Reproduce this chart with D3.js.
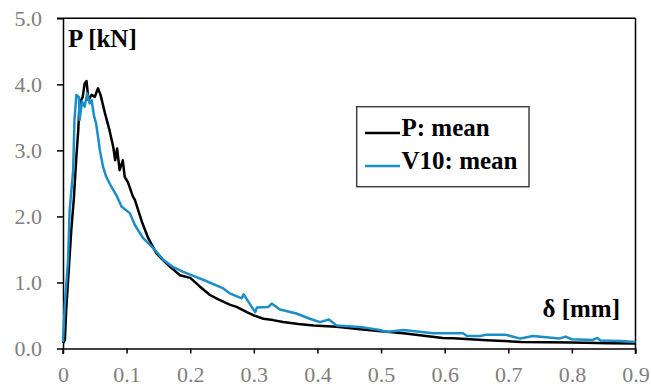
<!DOCTYPE html>
<html><head><meta charset="utf-8">
<script src="https://cdn.jsdelivr.net/npm/d3@7"></script>
<style>body{margin:0;background:#fff}svg{display:block}
text{font-family:"Liberation Serif","Times New Roman",Times,serif !important}</style>
</head><body><svg id="c" width="651" height="387"></svg>
<script>
const xTicks = [0, 0.1, 0.2, 0.3, 0.4, 0.5, 0.6, 0.7, 0.8, 0.9];
const xTickLabels = ["0", "0.1", "0.2", "0.3", "0.4", "0.5", "0.6", "0.7", "0.8", "0.9"];
const yTicks = [0, 1, 2, 3, 4, 5];
const yTickLabels = ["0.0", "1.0", "2.0", "3.0", "4.0", "5.0"];
const seriesNames = ["P: mean", "V10: mean"];

const pDelta = [0, 0.003, 0.005, 0.008, 0.013, 0.017, 0.021, 0.024, 0.026, 0.031, 0.034, 0.037, 0.040, 0.045, 0.050, 0.055, 0.059, 0.066, 0.073, 0.079, 0.082, 0.085, 0.089, 0.094, 0.097, 0.102, 0.110, 0.113, 0.118, 0.124, 0.134, 0.147, 0.158, 0.168, 0.184, 0.200, 0.215, 0.231, 0.245, 0.263, 0.273, 0.289, 0.300, 0.315, 0.330, 0.346, 0.370, 0.394, 0.430, 0.467, 0.500, 0.535, 0.561, 0.597, 0.614, 0.666, 0.720, 0.800, 0.860, 0.900];
const pLoad  = [0.08, 0.13, 0.58, 1.03, 1.79, 2.26, 2.90, 3.31, 3.71, 3.81, 4.01, 4.05, 3.76, 3.84, 3.81, 3.94, 3.84, 3.56, 3.31, 3.05, 2.85, 3.03, 2.70, 2.85, 2.60, 2.52, 2.30, 2.25, 2.10, 1.92, 1.67, 1.44, 1.33, 1.24, 1.11, 1.07, 0.94, 0.81, 0.74, 0.66, 0.63, 0.55, 0.50, 0.45, 0.43, 0.40, 0.37, 0.35, 0.33, 0.29, 0.26, 0.23, 0.20, 0.16, 0.155, 0.125, 0.10, 0.09, 0.08, 0.075];

const vDelta = [0, 0.003, 0.008, 0.0105, 0.016, 0.018, 0.021, 0.025, 0.026, 0.030, 0.034, 0.038, 0.042, 0.045, 0.049, 0.052, 0.055, 0.058, 0.063, 0.068, 0.076, 0.084, 0.092, 0.105, 0.113, 0.126, 0.142, 0.158, 0.172, 0.189, 0.205, 0.223, 0.252, 0.263, 0.281, 0.284, 0.302, 0.305, 0.323, 0.328, 0.341, 0.367, 0.388, 0.404, 0.418, 0.430, 0.472, 0.498, 0.509, 0.535, 0.582, 0.629, 0.635, 0.656, 0.666, 0.695, 0.719, 0.739, 0.780, 0.790, 0.800, 0.833, 0.840, 0.845, 0.876, 0.900];
const vLoad  = [0.10, 0.69, 1.34, 2.10, 2.70, 3.46, 3.84, 3.81, 3.46, 3.74, 3.66, 3.86, 3.71, 3.76, 3.51, 3.41, 3.21, 3.00, 2.75, 2.60, 2.45, 2.32, 2.15, 2.05, 1.87, 1.67, 1.52, 1.34, 1.24, 1.16, 1.10, 1.03, 0.91, 0.83, 0.76, 0.82, 0.55, 0.62, 0.63, 0.68, 0.59, 0.53, 0.45, 0.40, 0.44, 0.35, 0.32, 0.28, 0.25, 0.28, 0.23, 0.23, 0.19, 0.19, 0.21, 0.21, 0.15, 0.19, 0.15, 0.18, 0.14, 0.13, 0.16, 0.12, 0.115, 0.10];

const colors = ["#000000", "#1b8ec9"];
const font = "Liberation Serif";

const svg = d3.select("#c");
const x = d3.scaleLinear().domain([0, 0.9]).range([63, 635.5]);
const y = d3.scaleLinear().domain([0, 5]).range([348.5, 18.3]);

svg.append("line").attr("x1", 57).attr("x2", 635.5).attr("y1", y(5)).attr("y2", y(5)).attr("stroke", "#000").attr("stroke-width", 1.5);
svg.append("line").attr("x1", 635.5).attr("x2", 635.5).attr("y1", y(5)).attr("y2", 354).attr("stroke", "#000").attr("stroke-width", 1.5);

const xAxis = svg.append("g").attr("transform", `translate(0,${y(0)})`)
  .call(d3.axisBottom(x).tickValues(xTicks).tickFormat((d, i) => xTickLabels[i]).tickSize(5).tickSizeOuter(0).tickPadding(13));
const yAxis = svg.append("g").attr("transform", `translate(${x(0)},0)`)
  .call(d3.axisLeft(y).tickValues(yTicks).tickFormat((d, i) => yTickLabels[i]).tickSize(6).tickSizeOuter(0).tickPadding(15));
[xAxis, yAxis].forEach(g => {
  g.attr("font-family", font);
  g.select(".domain").attr("stroke", "#000").attr("stroke-width", 1.5);
  g.selectAll(".tick line").attr("stroke", "#000").attr("stroke-width", 1.5);
  g.selectAll(".tick text").attr("fill", "#7f7f7f").attr("font-family", font).style("font-size", "22px");
});
svg.append("line").attr("x1", x(0)).attr("x2", x(0)).attr("y1", y(0)).attr("y2", 354).attr("stroke", "#000").attr("stroke-width", 1.5);

const line = d3.line().x(d => x(d[0])).y(d => y(d[1]));
const series = [d3.zip(pDelta, pLoad), d3.zip(vDelta, vLoad)];
series.forEach((s, i) => {
  svg.append("path").datum(s).attr("d", line).attr("fill", "none")
    .attr("stroke", colors[i]).attr("stroke-width", 2.5).attr("stroke-linejoin", "round");
});

svg.append("text").attr("x", 68).attr("y", 47).text("P [kN]").attr("font-family", font)
  .style("font-weight", "bold").style("font-size", "25px");
svg.append("text").attr("x", 620).attr("y", 317).attr("text-anchor", "end").text("δ [mm]").attr("font-family", font)
  .style("font-weight", "bold").style("font-size", "25px");

const lg = svg.append("g");
lg.append("rect").attr("x", 356.7).attr("y", 106.7).attr("width", 172.3).attr("height", 80)
  .attr("fill", "#fff").attr("stroke", "#404040").attr("stroke-width", 1.5);
seriesNames.forEach((n, i) => {
  const yy = 133 + i * 33;
  lg.append("line").attr("x1", 365).attr("x2", 400).attr("y1", yy).attr("y2", yy)
    .attr("stroke", colors[i]).attr("stroke-width", 2.5);
  lg.append("text").attr("x", 401.5).attr("y", yy + 2.5).text(n).attr("font-family", font)
    .style("font-weight", "bold").style("font-size", "25px");
});
</script></body></html>
